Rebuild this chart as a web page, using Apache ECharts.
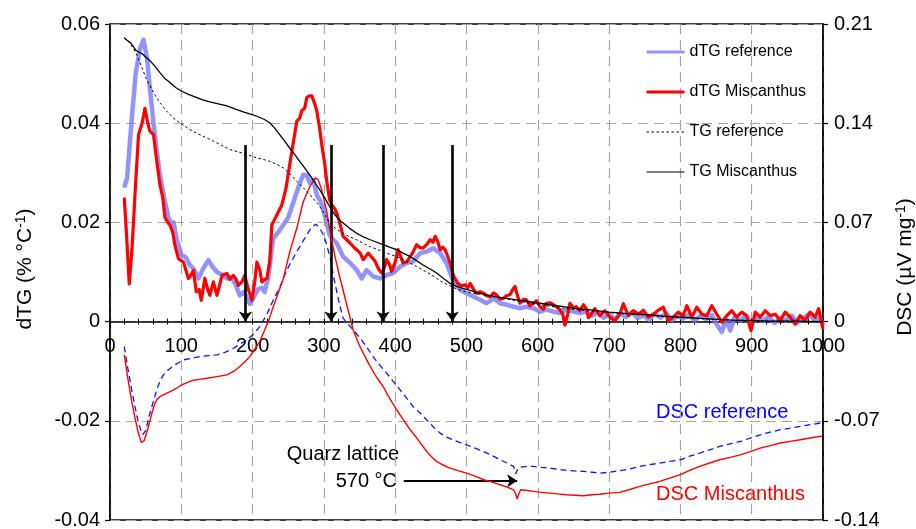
<!DOCTYPE html>
<html>
<head>
<meta charset="utf-8">
<script src="https://cdn.jsdelivr.net/npm/echarts@6/dist/echarts.min.js"></script>
<style>html,body{margin:0;padding:0;background:#fff}#c{width:916px;height:529px}</style>
</head>
<body>
<div id="c"></div>
<script>
// ---------- data (temperature °C, value) ----------
const dtgReference = [[20,0.027],[24,0.029],[30,0.040],[36,0.050],[42,0.055],[47,0.0568],[52,0.053],[56,0.047],[61,0.040],[66,0.034],[70,0.0296],[76,0.025],[82,0.021],[86,0.0195],[89,0.020],[93,0.017],[100,0.0134],[106,0.013],[112,0.0114],[118,0.0105],[124,0.0087],[130,0.0105],[138,0.0124],[144,0.011],[150,0.010],[157,0.0095],[164,0.0087],[170,0.009],[176,0.0075],[182,0.0053],[188,0.006],[196,0.0036],[202,0.005],[208,0.0066],[213,0.0068],[217,0.006],[222,0.009],[229,0.0168],[236,0.018],[243,0.0195],[250,0.021],[257,0.024],[264,0.027],[271,0.0296],[276,0.0295],[280,0.028],[285,0.0285],[290,0.0256],[296,0.024],[301,0.0215],[308,0.0175],[313,0.0165],[318,0.0158],[327,0.0131],[337,0.0118],[346,0.0104],[353,0.0087],[360,0.0104],[369,0.0091],[379,0.0087],[388,0.0094],[397,0.0098],[407,0.0111],[416,0.0118],[425,0.0121],[435,0.0138],[444,0.0141],[453,0.0148],[463,0.0138],[472,0.0118],[481,0.0084],[491,0.0064],[500,0.0057],[510,0.005],[519,0.0044],[528,0.0037],[538,0.0047],[547,0.0037],[556,0.0034],[566,0.003],[575,0.0027],[584,0.003],[594,0.0027],[603,0.002],[612,0.0024],[622,0.002],[631,0.0017],[640,0.0024],[650,0.002],[659,0.0017],[668,0.002],[676,0.0012],[684,0.0018],[692,0.0008],[700,0.0014],[708,0.0005],[716,0.0016],[724,0.0009],[732,0.0019],[740,0.0007],[748,0.0013],[756,0.0004],[764,0.0015],[772,0.0008],[780,0.0017],[788,0.0003],[796,0.0011],[804,0.0006],[812,0.0014],[820,0.0002],[828,0.0012],[836,0.0005],[844,0.0013],[852,-0.0008],[858,-0.0021],[864,0.0004],[870,-0.0018],[876,0.0009],[884,0.0002],[892,0.0011],[900,-0.0004],[908,0.0008],[916,0.0001],[924,0.0010],[932,-0.0003],[940,0.0007],[948,0.0002],[956,0.0012],[964,-0.0002],[972,0.0006],[980,0.0015],[988,0.0003],[996,0.0008],[1000,-0.0008]];

const dtgMiscanthus = [[20,0.025],[23,0.018],[27,0.0076],[31,0.015],[36,0.028],[40,0.0377],[45,0.040],[49,0.043],[53,0.040],[56,0.0384],[61,0.0377],[65,0.033],[70,0.0276],[74,0.025],[77,0.021],[81,0.020],[84,0.0195],[88,0.018],[91,0.0154],[96,0.0127],[103,0.012],[110,0.0087],[114,0.0095],[117,0.0103],[121,0.006],[125,0.0065],[128,0.0043],[133,0.0087],[137,0.0065],[140,0.0053],[145,0.008],[150,0.0053],[154,0.0075],[157,0.0093],[160,0.0095],[164,0.0097],[168,0.0085],[173,0.0093],[177,0.0085],[180,0.0073],[185,0.008],[189,0.0093],[194,0.0065],[199,0.0043],[203,0.008],[206,0.012],[210,0.0105],[213,0.008],[217,0.0085],[220,0.0087],[224,0.012],[227,0.0195],[234,0.0215],[241,0.0235],[247,0.027],[252,0.0316],[257,0.036],[262,0.0404],[266,0.041],[269,0.0425],[273,0.043],[276,0.0452],[280,0.0455],[283,0.0455],[287,0.044],[290,0.0425],[294,0.039],[297,0.0357],[301,0.032],[304,0.0283],[308,0.0246],[311,0.0235],[315,0.0228],[318,0.0219],[322,0.020],[327,0.0172],[332,0.0165],[337,0.0158],[342,0.015],[346,0.0145],[351,0.0138],[355,0.0125],[358,0.013],[362,0.0138],[367,0.013],[372,0.0121],[377,0.0105],[381,0.0098],[385,0.011],[388,0.0125],[392,0.0115],[395,0.0101],[400,0.012],[404,0.0145],[408,0.013],[411,0.0118],[416,0.012],[421,0.0131],[425,0.014],[430,0.0155],[434,0.015],[439,0.0148],[444,0.0155],[449,0.0165],[453,0.016],[456,0.0172],[460,0.016],[463,0.0145],[467,0.015],[470,0.0145],[474,0.013],[477,0.0118],[482,0.0091],[488,0.0077],[493,0.0072],[498,0.0074],[502,0.0068],[505,0.0077],[510,0.0065],[514,0.0057],[519,0.006],[524,0.0057],[528,0.0052],[533,0.005],[538,0.0058],[542,0.0054],[547,0.0045],[552,0.0047],[556,0.0052],[561,0.0054],[565,0.0065],[568,0.0071],[572,0.005],[575,0.0037],[580,0.0045],[584,0.0044],[589,0.0032],[594,0.0037],[598,0.0042],[603,0.003],[608,0.0025],[612,0.0037],[617,0.0038],[622,0.0034],[626,0.003],[631,0.0024],[635,0.0015],[638,-0.0007],[642,0.0015],[645,0.0037],[650,0.0028],[654,0.003],[659,0.0022],[664,0.0034],[668,0.0026],[671,0.0008],[675,0.0015],[680,0.0026],[687,0.0012],[694,0.0022],[701,0.0009],[708,0.0002],[715,0.0015],[720,0.0036],[727,0.0012],[734,0.0022],[741,0.0015],[748,0.0023],[755,0.0009],[762,0.0015],[769,0.0023],[776,0.0029],[783,0.0002],[790,0.0009],[797,0.0019],[804,0.0012],[809,0.0032],[816,0.0009],[823,0.0029],[830,0.0015],[837,0.0012],[844,0.0032],[851,0.0015],[858,-0.0001],[865,0.0012],[872,0.0022],[879,0.0009],[886,0.0019],[893,0.0012],[899,-0.0018],[905,0.0019],[912,0.0009],[919,0.0022],[926,0.0012],[933,0.0015],[940,0.0002],[947,0.0019],[954,0.0009],[961,-0.0005],[968,0.0012],[975,0.0002],[982,0.0019],[989,0.0009],[994,0.0026],[1000,-0.0015]];

const tgReference = [[20,0.0572],[26,0.0566],[31,0.0555],[37,0.054],[44,0.0515],[51,0.0489],[58,0.047],[65,0.0452],[72,0.0438],[79,0.0425],[89,0.041],[100,0.0399],[110,0.0389],[121,0.038],[133,0.0372],[145,0.0364],[157,0.0355],[168,0.0347],[180,0.0342],[192,0.0337],[206,0.033],[215,0.0327],[224,0.0323],[234,0.0317],[243,0.031],[252,0.0298],[262,0.0283],[271,0.027],[280,0.0256],[290,0.024],[299,0.0222],[308,0.0198],[318,0.0186],[327,0.0178],[336,0.0171],[346,0.0165],[355,0.0158],[365,0.0151],[374,0.0146],[383,0.0141],[392,0.0136],[402,0.0131],[411,0.0125],[421,0.0118],[430,0.0111],[439,0.0104],[449,0.0096],[458,0.0087],[467,0.0079],[477,0.0072],[486,0.0066],[495,0.0062],[510,0.0057],[524,0.0054],[538,0.005],[552,0.0047],[570,0.0042],[589,0.0037],[612,0.0032],[636,0.0027],[654,0.0024],[671,0.0022],[700,0.0018],[727,0.0015],[753,0.0013],[776,0.001],[800,0.0008],[823,0.0006],[846,0.0005],[873,0.0003],[900,0.0002],[925,0.0001],[949,0.0001],[975,0.00005],[1000,0]];

const tgMiscanthus = [[20,0.0572],[30,0.056],[37,0.0546],[45,0.054],[56,0.0526],[63,0.0515],[70,0.0502],[77,0.049],[84,0.0482],[92,0.0472],[100,0.0465],[110,0.0458],[121,0.0452],[130,0.0447],[140,0.0443],[152,0.0439],[164,0.0435],[175,0.0429],[187,0.0423],[196,0.0419],[206,0.0414],[216,0.0408],[224,0.0401],[231,0.039],[238,0.0377],[245,0.0364],[252,0.035],[259,0.0337],[266,0.0323],[273,0.031],[280,0.0296],[287,0.0281],[294,0.0266],[301,0.025],[308,0.0232],[315,0.0216],[322,0.0205],[327,0.0199],[336,0.0188],[346,0.0178],[355,0.0171],[365,0.0165],[374,0.016],[383,0.0155],[392,0.015],[402,0.0145],[411,0.0138],[421,0.0131],[430,0.0123],[439,0.0114],[449,0.0106],[458,0.0098],[467,0.0088],[477,0.0077],[486,0.0071],[495,0.0067],[505,0.0063],[514,0.0059],[528,0.0054],[542,0.005],[556,0.0047],[570,0.0044],[584,0.0041],[598,0.0038],[617,0.0034],[636,0.003],[654,0.0026],[671,0.0024],[700,0.0019],[727,0.0016],[753,0.0014],[776,0.0011],[800,0.0009],[823,0.0007],[846,0.0005],[873,0.0003],[900,0.0002],[925,0.0001],[949,0.0001],[975,0.00005],[1000,0]];

const dscReference = [[20,-0.0176],[25,-0.033],[30,-0.047],[35,-0.06],[40,-0.072],[45.7,-0.0799],[50,-0.077],[56,-0.0646],[61,-0.056],[65.5,-0.0482],[70,-0.042],[75,-0.0376],[82,-0.034],[89,-0.0312],[96,-0.029],[103,-0.027],[115,-0.0258],[126,-0.0247],[138,-0.024],[150,-0.0235],[162,-0.0215],[173,-0.0188],[182,-0.016],[192,-0.0129],[200,-0.0095],[210,-0.0035],[220,0.005],[229,0.0153],[238,0.024],[248,0.0364],[255,0.043],[262,0.0494],[271,0.057],[280,0.0646],[285,0.0675],[289,0.0687],[294,0.066],[299.5,0.0611],[304,0.054],[309,0.0447],[313,0.033],[318,0.0212],[322,0.012],[327,0.0024],[337,-0.0035],[351,-0.0117],[360,-0.018],[369,-0.0247],[378,-0.0305],[388,-0.0364],[397,-0.042],[407,-0.0482],[416,-0.054],[425,-0.0599],[435,-0.0645],[444,-0.0693],[453,-0.074],[463,-0.0787],[472,-0.0815],[481,-0.0834],[490,-0.0852],[500,-0.0869],[512,-0.0893],[524,-0.0917],[536,-0.0945],[547,-0.0975],[557,-0.0998],[566,-0.1022],[569,-0.1074],[572,-0.104],[575,-0.1027],[585,-0.1022],[594,-0.1022],[605,-0.1028],[617,-0.1034],[628,-0.1042],[640,-0.105],[652,-0.1054],[664,-0.1057],[676,-0.1063],[687,-0.1069],[700,-0.1063],[715,-0.1052],[729,-0.104],[743,-0.1022],[757,-0.101],[771,-0.0998],[785,-0.0987],[800,-0.0975],[813,-0.095],[827,-0.0928],[841,-0.0905],[855,-0.0881],[870,-0.0863],[884,-0.0846],[898,-0.0822],[912,-0.0799],[926,-0.078],[940,-0.0763],[954,-0.0752],[968,-0.074],[984,-0.0726],[1000,-0.0712]];

const dscMiscanthus = [[20,-0.0235],[25,-0.04],[30,-0.055],[35,-0.068],[40,-0.079],[44,-0.0853],[48,-0.084],[51,-0.079],[54,-0.074],[58,-0.066],[62,-0.059],[65.5,-0.0552],[70,-0.053],[75,-0.0517],[82,-0.050],[89,-0.0482],[95,-0.0465],[101,-0.0446],[108,-0.043],[115,-0.0416],[125,-0.0408],[136,-0.040],[150,-0.0388],[164,-0.0376],[174,-0.035],[182,-0.0317],[190,-0.028],[196,-0.0247],[203,-0.0195],[210,-0.0141],[216,-0.007],[222,0],[228,0.009],[234,0.0176],[243,0.030],[252,0.049],[262,0.066],[271,0.0846],[280,0.095],[288,0.1015],[292,0.1],[297,0.093],[304,0.0776],[310,0.06],[316,0.045],[322,0.032],[328,0.02],[334,0.008],[341,-0.0059],[350,-0.017],[360,-0.027],[371,-0.037],[383,-0.0458],[392,-0.054],[402,-0.0622],[411,-0.069],[421,-0.0763],[430,-0.082],[439,-0.0881],[448,-0.094],[458,-0.0987],[467,-0.1012],[477,-0.1034],[488,-0.1052],[500,-0.1069],[512,-0.109],[524,-0.1116],[536,-0.1133],[547,-0.1151],[557,-0.1168],[566,-0.1187],[569,-0.1215],[571,-0.1252],[573,-0.122],[576,-0.1187],[585,-0.1192],[594,-0.1198],[605,-0.1205],[617,-0.121],[628,-0.1216],[640,-0.1222],[652,-0.1225],[664,-0.1229],[676,-0.1222],[687,-0.1218],[700,-0.121],[715,-0.1205],[729,-0.1185],[743,-0.1163],[757,-0.1145],[771,-0.1128],[785,-0.1105],[800,-0.108],[813,-0.105],[827,-0.1022],[841,-0.0998],[855,-0.0975],[870,-0.0958],[884,-0.094],[898,-0.0917],[912,-0.0893],[926,-0.0875],[940,-0.0857],[954,-0.0845],[968,-0.0834],[984,-0.082],[1000,-0.0806]];

// event arrows (temperature) and their top value on dTG axis
const arrowTemps = [190, 310, 383, 480];
const arrowTop = 0.0356;
// quartz lattice annotation arrow: start / end temperature, level on dTG axis
const quartzArrow = [412, 571, -0.0321];

const xTicks = {min: 0, max: 1000, interval: 100};
const dtgTicks = {min: -0.04, max: 0.06, interval: 0.02};
const dscTicks = {min: -0.14, max: 0.21, interval: 0.07};

// ---------- layout ----------
const W = 916, H = 529;
const PL = 110, PR = 93, PT = 24, PB = 9;
const plotH = H - PT - PB;
const zeroY = PT + plotH * (dtgTicks.max / (dtgTicks.max - dtgTicks.min)); // pixel row of value 0

// ---------- chart ----------
const FONT = 'Liberation Sans, Arial, Helvetica, sans-serif';
const chart = echarts.init(document.getElementById('c'), null, {renderer: 'canvas'});
const fmt = v => Math.abs(v) < 1e-9 ? '0' : v.toFixed(2);
const gridDash = {color: '#a6a6a6', width: 1.2, type: [10, 6]};
const tickStyle = {color: '#000', width: 1};

const arrowLines = arrowTemps.map(t => [{coord: [t, arrowTop]}, {coord: [t, 0]}]);
arrowLines.push([{coord: [quartzArrow[0], quartzArrow[2]], lineStyle: {width: 2}}, {coord: [quartzArrow[1], quartzArrow[2]]}]);

const hiddenLegendSymbol = {color: 'rgba(0,0,0,0)', borderWidth: 0, opacity: 0};
const nameRich = {
  n: {fontSize: 21, fontFamily: FONT, color: '#000', lineHeight: 23},
  s: {fontSize: 14, fontFamily: FONT, color: '#000', verticalAlign: 'top', lineHeight: 23}
};

const option = {
  animation: false,
  textStyle: {fontFamily: FONT, color: '#000'},
  grid: [
    {left: PL, right: PR, top: PT, bottom: PB, show: true, borderColor: '#000', borderWidth: 1.5, containLabel: false, outerBoundsMode: 'none'},
    {left: PL, right: PR, top: PT, bottom: H - zeroY, containLabel: false, outerBoundsMode: 'none'},
    {left: PL, right: PR, top: zeroY, bottom: PB, containLabel: false, outerBoundsMode: 'none'}
  ],
  legend: {
    orient: 'vertical', left: 645, top: 44, padding: 0, itemWidth: 38, itemHeight: 16, itemGap: 24,
    textStyle: {fontSize: 16, color: '#000', fontFamily: FONT, lineHeight: 16},
    itemStyle: hiddenLegendSymbol,
    data: [
      {name: 'dTG reference', lineStyle: {width: 3, opacity: 1}, itemStyle: hiddenLegendSymbol},
      {name: 'dTG Miscanthus', lineStyle: {width: 3, opacity: 1}, itemStyle: hiddenLegendSymbol},
      {name: 'TG reference', lineStyle: {width: 1, opacity: 1}, itemStyle: hiddenLegendSymbol},
      {name: 'TG Miscanthus', lineStyle: {width: 1.2, opacity: 1}, itemStyle: hiddenLegendSymbol}
    ]
  },
  xAxis: [{
    gridIndex: 0, type: 'value', min: xTicks.min, max: xTicks.max, interval: xTicks.interval,
    axisLine: {show: false, onZero: false}, axisTick: {show: false}, axisLabel: {show: false},
    splitLine: {show: true, lineStyle: gridDash}
  }, {
    gridIndex: 1, type: 'value', min: xTicks.min, max: xTicks.max, interval: xTicks.interval, position: 'bottom',
    axisLine: {show: true, onZero: false, lineStyle: {color: '#000', width: 1.5}},
    axisTick: {show: true, length: 3, lineStyle: tickStyle},
    minorTick: {show: true, splitNumber: 5, length: 3, lineStyle: tickStyle},
    axisLabel: {fontSize: 20, color: '#000', margin: 15, fontFamily: FONT, formatter: v => String(v)},
    splitLine: {show: false}
  }, {
    gridIndex: 2, type: 'value', min: xTicks.min, max: xTicks.max, interval: xTicks.interval, position: 'top',
    axisLine: {show: false, onZero: false},
    axisTick: {show: true, length: 3, lineStyle: tickStyle},
    minorTick: {show: true, splitNumber: 5, length: 3, lineStyle: tickStyle},
    axisLabel: {show: false}, splitLine: {show: false}
  }],
  yAxis: [{
    gridIndex: 0, type: 'value', min: dtgTicks.min, max: dtgTicks.max, interval: dtgTicks.interval, position: 'left',
    axisLine: {show: true, onZero: false, lineStyle: {color: '#000', width: 1.5}},
    axisTick: {show: true, length: 5, lineStyle: {color: '#000', width: 1.2}},
    axisLabel: {fontSize: 20, color: '#000', margin: 10, formatter: fmt, fontFamily: FONT},
    splitLine: {show: true, lineStyle: gridDash},
    name: '{n|dTG (% °C}{s|-1}{n|)}', nameLocation: 'middle', nameGap: 73, nameRotate: 90,
    nameTextStyle: {fontFamily: FONT, rich: nameRich, padding: [0, 0, 0, 6]}
  }, {
    gridIndex: 0, type: 'value', min: dscTicks.min, max: dscTicks.max, interval: dscTicks.interval, position: 'right',
    axisLine: {show: true, onZero: false, lineStyle: {color: '#000', width: 1.5}},
    axisTick: {show: true, length: 5, lineStyle: {color: '#000', width: 1.2}},
    axisLabel: {fontSize: 20, color: '#000', margin: 11, formatter: fmt, fontFamily: FONT},
    splitLine: {show: false},
    name: '{n|DSC (µV mg}{s|-1}{n|)}', nameLocation: 'middle', nameGap: 71, nameRotate: 90,
    nameTextStyle: {fontFamily: FONT, rich: nameRich, padding: [0, 0, 0, 10]}
  }, {
    gridIndex: 1, type: 'value', min: 0, max: 1, show: false, axisLine: {onZero: false}
  }, {
    gridIndex: 2, type: 'value', min: 0, max: 1, show: false, axisLine: {onZero: false}
  }],
  series: [
    {name: 'dTG reference', type: 'line', xAxisIndex: 0, yAxisIndex: 0, data: dtgReference, symbol: 'none', z: 2,
      lineStyle: {color: 'rgba(120,120,255,0.8)', width: 4.5, join: 'round'}, itemStyle: {color: 'rgba(120,120,255,0.8)'}},
    {name: 'DSC reference', type: 'line', xAxisIndex: 0, yAxisIndex: 1, data: dscReference, symbol: 'none', z: 3,
      lineStyle: {color: '#1010ff', width: 1.3, type: [6, 4]}, itemStyle: {color: '#1010ff'}},
    {name: 'dTG Miscanthus', type: 'line', xAxisIndex: 0, yAxisIndex: 0, data: dtgMiscanthus, symbol: 'none', z: 4,
      lineStyle: {color: '#ff0000', width: 3.2, join: 'round'}, itemStyle: {color: '#ff0000'}},
    {name: 'DSC Miscanthus', type: 'line', xAxisIndex: 0, yAxisIndex: 1, data: dscMiscanthus, symbol: 'none', z: 5,
      lineStyle: {color: '#ff0000', width: 1.4}, itemStyle: {color: '#ff0000'}},
    {name: 'TG reference', type: 'line', xAxisIndex: 0, yAxisIndex: 0, data: tgReference, symbol: 'none', z: 6,
      lineStyle: {color: '#000', width: 1, type: [2.5, 2.5]}, itemStyle: {color: '#000'}},
    {name: 'TG Miscanthus', type: 'line', xAxisIndex: 0, yAxisIndex: 0, data: tgMiscanthus, symbol: 'none', z: 7,
      lineStyle: {color: '#000', width: 1.3}, itemStyle: {color: '#000'},
      markLine: {
        silent: true, symbol: ['none', 'arrow'], symbolSize: 10,
        label: {show: false},
        lineStyle: {color: '#000', width: 2.6, type: 'solid'},
        data: arrowLines
      }}
  ],
  graphic: [
    {type: 'text', right: W - 399, top: 444, style: {text: 'Quarz lattice', font: '20px ' + FONT, fill: '#000'}},
    {type: 'text', right: W - 397, top: 471, style: {text: '570 °C', font: '20px ' + FONT, fill: '#000'}},
    {type: 'text', left: 656, top: 402, style: {text: 'DSC reference', font: '20px ' + FONT, fill: '#0000ff'}},
    {type: 'text', left: 656, top: 484, style: {text: 'DSC Miscanthus', font: '20px ' + FONT, fill: '#ff0000'}}
  ]
};
chart.setOption(option);
</script>
</body>
</html>
